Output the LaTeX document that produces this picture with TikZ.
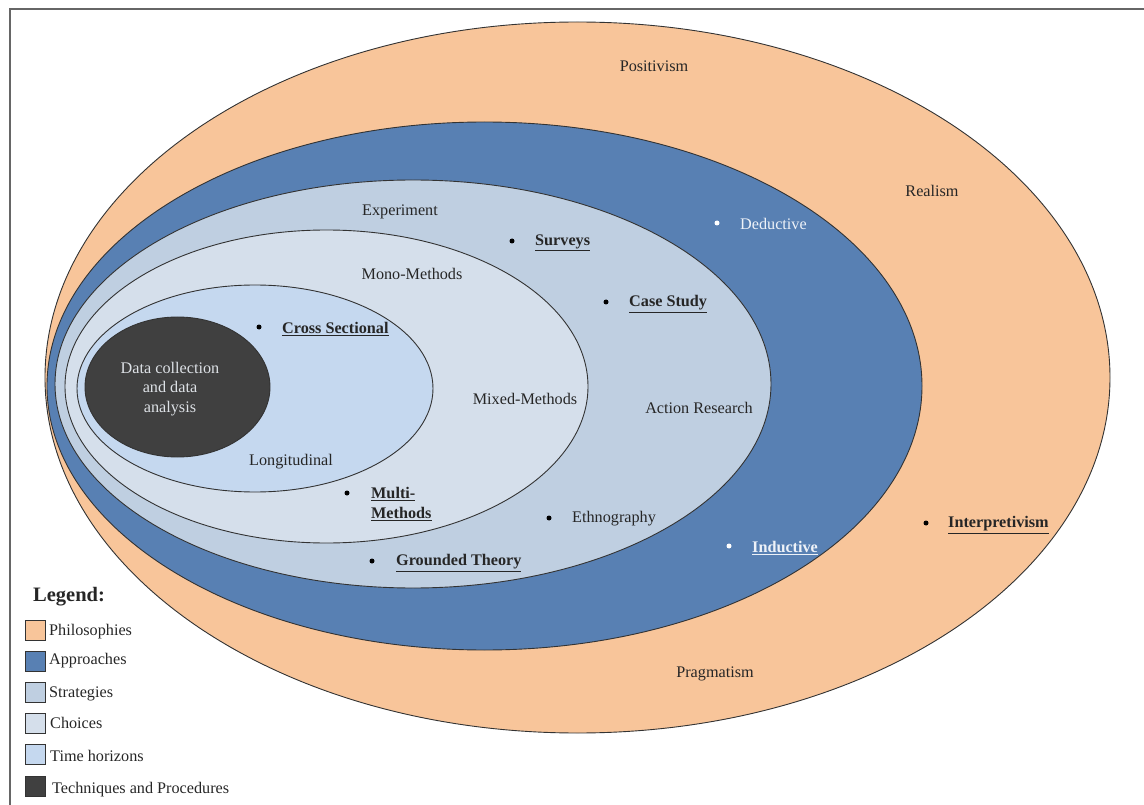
\documentclass[tikz,border=0pt]{standalone}
\usepackage{fontspec}
\setmainfont{Liberation Serif}
\usetikzlibrary{shapes.geometric}

\definecolor{philo}{HTML}{F8C59A}
\definecolor{appr}{HTML}{5880B3}
\definecolor{strat}{HTML}{BFCFE1}
\definecolor{choice}{HTML}{D5DFEB}
\definecolor{horizon}{HTML}{C5D8EF}
\definecolor{tech}{HTML}{404040}
\definecolor{rim}{HTML}{333333}
\definecolor{ink}{HTML}{262626}
\definecolor{pale}{HTML}{EEF2F8}
\definecolor{frame}{HTML}{666666}

\begin{document}
\begin{tikzpicture}[x=1pt,y=-1pt,
  layer/.style={ellipse, draw=rim, line width=0.9pt, inner sep=0pt},
  lbl/.style={font=\fontsize{16.2}{19.5}\selectfont, text=ink, inner sep=0pt},
  keylbl/.style={lbl, anchor=west, font=\fontsize{16.2}{19.5}\selectfont\bfseries},
  itemlbl/.style={lbl, anchor=west},
  bulletpt/.style={circle, fill=#1, inner sep=0pt, minimum size=5pt},
  bulletpt/.default=black,
  swatch/.style={draw=rim, fill=#1, minimum size=20pt, inner sep=0pt, line width=1pt},
]
\useasboundingbox (0,0) rectangle (1144,805);

% page frame (only top and left edges fall inside the page)
\draw[frame, line width=1.5pt] (10,805) -- (10,9) -- (1144,9);

% nested layers of the research onion
\node[layer, fill=philo,   minimum width=1065pt, minimum height=711pt] (philo)   at (577.5,377.5) {};
\node[layer, fill=appr,    minimum width=875pt,  minimum height=528pt] (appr)    at (484.5,386) {};
\node[layer, fill=strat,   minimum width=716pt,  minimum height=408pt] (strat)   at (413,384) {};
\node[layer, fill=choice,  minimum width=523pt,  minimum height=313pt] (choice)  at (326.5,386.5) {};
\node[layer, fill=horizon, minimum width=356pt,  minimum height=207pt] (horizon) at (255,388.5) {};
\node[layer, fill=tech,    minimum width=185pt,  minimum height=140pt] (tech)    at (177.5,387) {};
\node[lbl, text=pale!85!gray, align=center] (techtxt) at (170,389) {Data collection\\and data\\analysis};

% philosophies
\node[lbl] (positivism) at (654,66) {Positivism};
\node[lbl] (realism) at (932,191) {Realism};
\node[lbl] (pragmatism) at (715,674) {Pragmatism};
\node[bulletpt] (b-interp) at (926,523) {};
\node[keylbl] (interp) at (948,525) {\underline{Interpretivism}};

% approaches
\node[bulletpt=white] (b-deduct) at (717,223) {};
\node[itemlbl, text=pale] (deduct) at (740,224) {Deductive};
\node[bulletpt=white] (b-induct) at (729,546) {};
\node[keylbl, text=pale] (induct) at (752,548) {\underline{Inductive}};

% strategies
\node[lbl] (experiment) at (400,212) {Experiment};
\node[bulletpt] (b-surveys) at (512,241) {};
\node[keylbl] (surveys) at (535,243) {\underline{Surveys}};
\node[bulletpt] (b-case) at (606,302) {};
\node[keylbl] (case) at (629,304) {\underline{Case Study}};
\node[lbl] (action) at (699,408) {Action Research};
\node[bulletpt] (b-ethno) at (549,518) {};
\node[itemlbl] (ethno) at (572,519) {Ethnography};
\node[bulletpt] (b-grounded) at (372,561) {};
\node[keylbl] (grounded) at (396,563) {\underline{Grounded Theory}};

% choices
\node[lbl] (mono) at (412,274) {Mono-Methods};
\node[lbl] (mixed) at (525,399) {Mixed-Methods};
\node[bulletpt] (b-multi) at (347,493) {};
\node[keylbl, anchor=north west, align=left] (multi) at (371,487.5) {\underline{Multi-}\\\underline{Methods}};

% time horizons
\node[bulletpt] (b-cross) at (259,327) {};
\node[keylbl] (cross) at (282,329) {\underline{Cross Sectional}};
\node[lbl] (longit) at (291,462) {Longitudinal};

% legend
\node[lbl, anchor=west, font=\fontsize{20.5}{24}\selectfont\bfseries] (legend) at (33,597) {Legend:};
\node[swatch=philo]   (k1) at (35,630) {};
\node[swatch=appr]    (k2) at (35,661) {};
\node[swatch=strat]   (k3) at (35,692) {};
\node[swatch=choice]  (k4) at (35,723) {};
\node[swatch=horizon] (k5) at (35,754.5) {};
\node[swatch=tech]    (k6) at (35,786) {};
\node[itemlbl] (t1) at (49,631.5) {Philosophies};
\node[itemlbl] (t2) at (49,660.5) {Approaches};
\node[itemlbl] (t3) at (49,693.5) {Strategies};
\node[itemlbl] (t4) at (50,722.5) {Choices};
\node[itemlbl] (t5) at (50,755.5) {Time horizons};
\node[itemlbl] (t6) at (52,789.5) {Techniques and Procedures};
\end{tikzpicture}
\end{document}
